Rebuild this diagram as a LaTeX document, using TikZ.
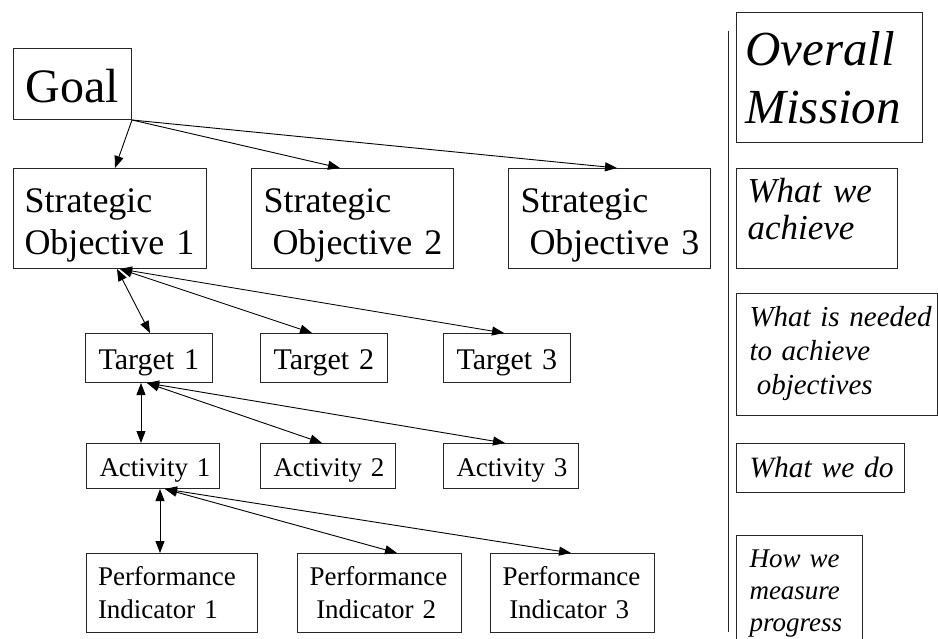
\documentclass[tikz,border=0pt]{standalone}
\usepackage{fontspec}
\setmainfont{Liberation Serif}
\usetikzlibrary{arrows.meta}
\begin{document}
\begin{tikzpicture}[x=1pt,y=-1pt,
  box/.style={draw=black!85, line width=1pt, anchor=north west, inner ysep=0pt, align=left},
  link/.style={line width=0.9pt, -{Triangle[length=12pt,width=9pt]}},
  dlink/.style={line width=0.9pt, {Triangle[length=12pt,width=9pt]}-{Triangle[length=12pt,width=9pt]}},
  sep/.style={line width=1pt, draw=black!85}
]
\useasboundingbox (0,0) rectangle (938,639);
\begin{scope}
\clip (0,0) rectangle (938,639);

% left hierarchy
\node[box, minimum width=118pt, minimum height=71pt, inner xsep=12pt, text width=94pt,
      text height=36.4pt, text depth=0pt, font=\fontsize{48}{55}\selectfont] (goal) at (13,48) {Goal};

\node[box, minimum width=193pt, minimum height=100pt, inner xsep=11pt, text width=171pt,
      text height=0pt, text depth=12.6pt, font=\fontsize{36}{42}\selectfont] (so1) at (13,168)
      {Strategic\\\mbox{Objective 1}};
\node[box, minimum width=202pt, minimum height=100pt, inner xsep=12pt, text width=178pt,
      text height=0pt, text depth=12.6pt, font=\fontsize{36}{42}\selectfont] (so2) at (251,168)
      {Strategic\\\mbox{\hspace*{0.25em}Objective 2}};
\node[box, minimum width=202pt, minimum height=100pt, inner xsep=12pt, text width=178pt,
      text height=0pt, text depth=12.6pt, font=\fontsize{36}{42}\selectfont] (so3) at (508,168)
      {Strategic\\\mbox{\hspace*{0.25em}Objective 3}};

\node[box, minimum width=127pt, minimum height=49pt, inner xsep=13pt, text width=101pt,
      text height=23.6pt, text depth=0pt, font=\fontsize{30}{35}\selectfont] (t1) at (85,333) {\mbox{Target 1}};
\node[box, minimum width=127pt, minimum height=49pt, inner xsep=13pt, text width=101pt,
      text height=23.6pt, text depth=0pt, font=\fontsize{30}{35}\selectfont] (t2) at (260,333) {\mbox{Target 2}};
\node[box, minimum width=127pt, minimum height=49pt, inner xsep=13pt, text width=101pt,
      text height=23.6pt, text depth=0pt, font=\fontsize{30}{35}\selectfont] (t3) at (443,333) {\mbox{Target 3}};

\node[box, minimum width=133pt, minimum height=45pt, inner xsep=13pt, text width=107pt,
      text height=21pt, text depth=0pt, font=\fontsize{27}{32}\selectfont] (a1) at (86,443) {\mbox{Activity 1}};
\node[box, minimum width=135pt, minimum height=45pt, inner xsep=13pt, text width=109pt,
      text height=21pt, text depth=0pt, font=\fontsize{27}{32}\selectfont] (a2) at (260,443) {\mbox{Activity 2}};
\node[box, minimum width=135pt, minimum height=45pt, inner xsep=13pt, text width=109pt,
      text height=21pt, text depth=0pt, font=\fontsize{27}{32}\selectfont] (a3) at (443,443) {\mbox{Activity 3}};

\node[box, minimum width=171pt, minimum height=79pt, inner xsep=11.5pt, text width=148pt,
      text height=0pt, text depth=15pt, font=\fontsize{27}{33}\selectfont] (pi1) at (86,553)
      {Performance\\\mbox{Indicator 1}};
\node[box, minimum width=164pt, minimum height=79pt, inner xsep=12pt, text width=140pt,
      text height=0pt, text depth=15pt, font=\fontsize{27}{33}\selectfont] (pi2) at (297,553)
      {Performance\\\mbox{\hspace*{0.25em}Indicator 2}};
\node[box, minimum width=164pt, minimum height=79pt, inner xsep=12pt, text width=140pt,
      text height=0pt, text depth=15pt, font=\fontsize{27}{33}\selectfont] (pi3) at (490,553)
      {Performance\\\mbox{\hspace*{0.25em}Indicator 3}};

% right column
\coordinate (septop) at (728,31);
\coordinate (sepbot) at (728,632);
\draw[sep] (septop) -- (sepbot);

\node[box, minimum width=186pt, minimum height=130pt, inner xsep=9pt, text width=168pt,
      text height=0pt, text depth=24pt, font=\fontsize{49}{58}\selectfont\itshape] (mission) at (736,12)
      {Overall\\Mission};
\node[box, minimum width=161pt, minimum height=100pt, inner xsep=11pt, text width=139pt,
      text height=0pt, text depth=32pt, font=\fontsize{35}{37}\selectfont\itshape] (achieve) at (736,168)
      {\mbox{What we}\\achieve};
\node[box, minimum width=201pt, minimum height=122pt, inner xsep=13pt, text width=175pt,
      text height=0pt, text depth=56pt, font=\fontsize{29}{34}\selectfont\itshape] (needed) at (736,293)
      {\mbox{What is needed}\\\mbox{to achieve}\\\mbox{\hspace*{0.25em}objectives}};
\node[box, minimum width=168pt, minimum height=49pt, inner xsep=13pt, text width=142pt,
      text height=18.4pt, text depth=0pt, font=\fontsize{29.5}{34}\selectfont\itshape] (wedo) at (736,443)
      {\mbox{What we do}};
\node[box, minimum width=126pt, minimum height=120pt, inner xsep=13pt, text width=100pt,
      text height=0pt, text depth=56pt, font=\fontsize{27}{32}\selectfont\itshape] (measure) at (736,535)
      {\mbox{How we}\\measure\\progress};

% connectors
\draw[link] (goal.south east) -- ([xshift=102pt]so1.north west);
\draw[link] (goal.south east) -- ([xshift=89pt]so2.north west);
\draw[link] (goal.south east) -- ([xshift=109pt]so3.north west);

\draw[dlink] ([xshift=104pt]so1.south west) -- ([xshift=65pt]t1.north west);
\draw[dlink] ([xshift=107pt]so1.south west) -- ([xshift=52pt]t2.north west);
\draw[dlink] ([xshift=107pt]so1.south west) -- ([xshift=61pt]t3.north west);

\draw[dlink] ([xshift=56pt]t1.south west) -- ([xshift=55pt]a1.north west);
\draw[dlink] ([xshift=62pt]t1.south west) -- ([xshift=62pt]a2.north west);
\draw[dlink] ([xshift=62pt]t1.south west) -- ([xshift=62pt]a3.north west);

\draw[dlink] ([xshift=74pt]a1.south west) -- ([xshift=74pt]pi1.north west);
\draw[dlink] ([xshift=79pt]a1.south west) -- ([xshift=100pt]pi2.north west);
\draw[dlink] ([xshift=79pt]a1.south west) -- ([xshift=81pt]pi3.north west);
\end{scope}
\end{tikzpicture}
\end{document}
